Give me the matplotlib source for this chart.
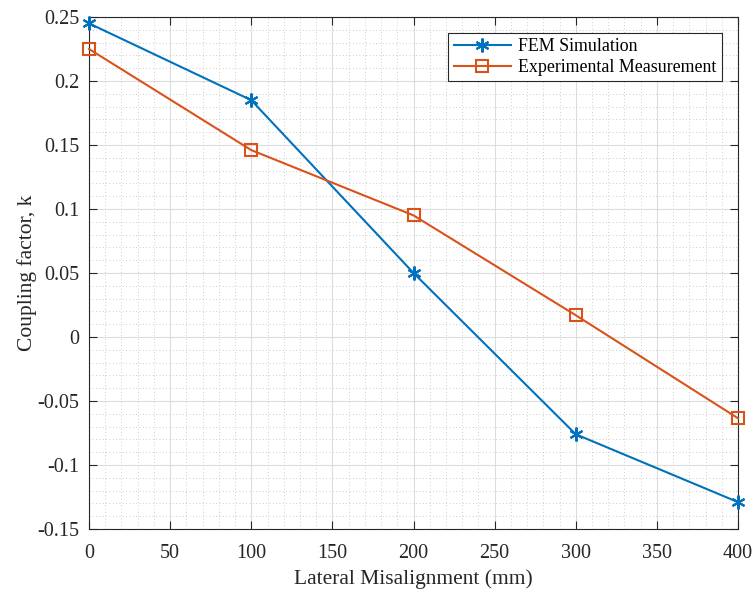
import matplotlib
matplotlib.use("Agg")
import matplotlib.pyplot as plt
from matplotlib.ticker import MultipleLocator

x = [0, 100, 200, 300, 400]
fem = [0.245, 0.185, 0.050, -0.076, -0.129]
exp_meas = [0.225, 0.146, 0.095, 0.017, -0.0635]
xticks = [0, 50, 100, 150, 200, 250, 300, 350, 400]
yticks = [-0.15, -0.1, -0.05, 0, 0.05, 0.1, 0.15, 0.2, 0.25]
yticklabels = ["-0.15", "-0.1", "-0.05", "0", "0.05", "0.1", "0.15", "0.2", "0.25"]

plt.rcParams['font.family'] = ['Liberation Serif', 'DejaVu Serif']

fig = plt.figure(figsize=(7.52, 5.9), dpi=100)
ax = fig.add_axes([0.1184, 0.1034, 0.8630, 0.8678])

ax.plot(x, fem, color='#0072BD', marker=(6, 2, 0), markersize=10, markeredgewidth=1.5,
        linewidth=1.5, label='FEM Simulation', clip_on=False, zorder=3)
ax.plot(x, exp_meas, color='#D95319', marker='s', markersize=8, markerfacecolor='none',
        markeredgewidth=1.5, linewidth=1.5, label='Experimental Measurement', clip_on=False, zorder=3)

ax.set_xlim(0, 400)
ax.set_ylim(-0.15, 0.25)
ax.set_xticks(xticks)
ax.set_yticks(yticks)
ax.set_yticklabels(yticklabels)
ax.xaxis.set_minor_locator(MultipleLocator(10))
ax.yaxis.set_minor_locator(MultipleLocator(0.01))

ax.grid(True, which='major', color='#dcdcdc', linewidth=0.8)
ax.grid(True, which='minor', color='#bdbdbd', linewidth=0.6, linestyle=(0, (1, 3)))
ax.set_axisbelow(True)

ax.tick_params(which='major', direction='in', length=6, width=0.8, top=True, right=True,
               labelsize=14.5, colors='#262626')
ax.tick_params(axis='y', which='major', pad=7)
ax.tick_params(axis='x', which='major', pad=11)
ax.tick_params(which='minor', length=0, top=True, right=True)
for s in ax.spines.values():
    s.set_color('#262626')
    s.set_linewidth(0.8)

ax.set_xlabel('Lateral Misalignment (mm)', fontsize=15.5, color='#262626', labelpad=4)
ax.set_ylabel('Coupling factor, k', fontsize=15.5, color='#262626', labelpad=0)

leg = ax.legend(loc='upper right', bbox_to_anchor=(0.9753, 0.969), fontsize=12.9,
                frameon=True, fancybox=False, edgecolor='#262626', framealpha=1,
                borderpad=0.3, handlelength=3.2, labelspacing=0.2, handletextpad=0.4,
                borderaxespad=0.0)
leg.get_frame().set_linewidth(0.8)

fig.savefig('out.png', dpi=100)
